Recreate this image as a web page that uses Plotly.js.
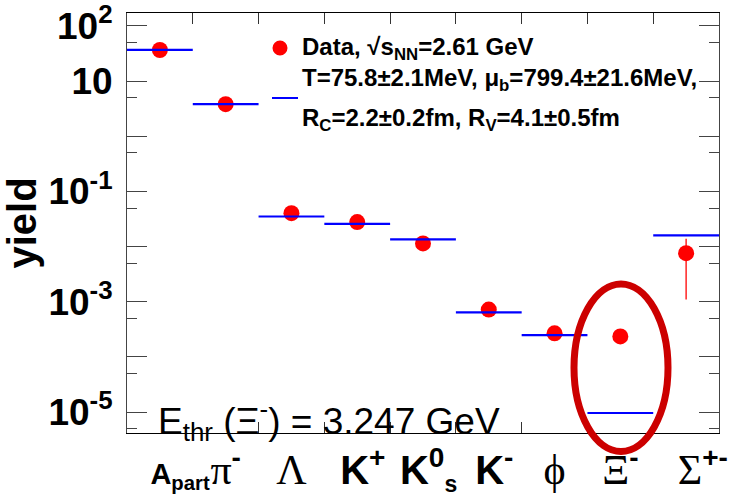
<!DOCTYPE html>
<html>
<head>
<meta charset="utf-8">
<script src="https://cdn.plot.ly/plotly-3.0.1.min.js"></script>
<style>html,body{margin:0;padding:0;background:#fff;}</style>
</head>
<body>
<div id="chart" style="width:729px;height:495px;"></div>
<script>
// Particle species (x categories), drawn as axis tick labels
const particles = [
  '<span style="font-size:29px">\u00a0\u00a0\u00a0\u00a0\u00a0A<sub>part</sub></span>',
  '<span style="font-family:Liberation Serif;font-weight:normal;font-size:42px">π</span><sup>-</sup>',
  '<span style="font-family:Liberation Serif;font-weight:normal;font-size:42px">Λ</span>',
  '\u00a0K<sup>+</sup>',
  '\u00a0K<sup>0</sup><sub><span style="font-size:23px">s</span></sub>',
  '\u00a0K<sup>-</sup>',
  '<span style="font-family:Liberation Serif, DejaVu Serif;font-weight:normal;font-size:42px">ϕ</span>',
  '<span style="font-family:Liberation Serif;font-weight:normal;font-size:42px">Ξ</span><sup>-</sup>',
  '\u00a0\u00a0\u00a0<span style="font-family:Liberation Serif;font-weight:normal;font-size:42px">Σ</span><sup>+-</sup>'
];

// Measured yields (red points) and statistical-model yields (blue lines)
const dataYield  = [36.7, 3.82, 0.0404, 0.0278, 0.0114, 7.2e-4, 2.67e-4, 2.35e-4, 7.6e-3];
const errPlus    = [null, null, null, null, null, null, null, null, 0.0062];
const errMinus   = [null, null, null, null, null, null, null, null, 0.0065];
const modelYield = [36.7, 3.82, 0.0351, 0.0259, 0.0135, 6.4e-4, 2.49e-4, 9.6e-6, 0.0159];

// Log-axis ticks: long ticks at each decade, short ticks at 5x10^k
const decadeVals   = [1e-5, 1e-4, 1e-3, 1e-2, 1e-1, 1, 10, 100];
const decadeLabels = ['10<sup>-5</sup>', '', '10<sup>-3</sup>', '', '10<sup>-1</sup>', '', '10', '10<sup>2</sup>'];
const fiveVals     = [5e-6, 5e-5, 5e-4, 5e-3, 5e-2, 0.5, 5, 50];

const SANS = 'Liberation Sans, Arial, sans-serif';
const idx = particles.map((_, i) => i);
const bounds = particles.slice(1).map((_, i) => i + 0.5);

const dataTrace = {
  x: idx, y: dataYield, type: 'scatter', mode: 'markers',
  marker: {color: '#ff0000', size: 16},
  error_y: {type: 'data', symmetric: false, array: errPlus, arrayminus: errMinus,
            color: '#ff0000', thickness: 1.3, width: 0},
  showlegend: false, hoverinfo: 'skip'
};

// Model values as horizontal segments spanning each category bin
const modelTrace = {
  x: idx, y: modelYield, type: 'scatter', mode: 'markers',
  marker: {size: 1, opacity: 0},
  error_x: {type: 'constant', value: 0.5, color: '#0000ff', thickness: 2.2, width: 0},
  showlegend: false, hoverinfo: 'skip'
};

const px = (p) => (p - 127) / 592;   // plot-area pixel -> paper x
const py = (p) => (433 - p) / 420;   // plot-area pixel -> paper y

const legendFont = {family: SANS, size: 24, weight: 'bold', color: '#000'};

const layout = {
  width: 729, height: 495,
  margin: {l: 127, r: 10, t: 13, b: 62},
  paper_bgcolor: '#fff', plot_bgcolor: '#fff',
  font: {family: SANS, color: '#000'},
  xaxis: {
    range: [-0.5, 8.5], tickmode: 'array', tickvals: idx, ticktext: particles,
    tickangle: 0,
    ticks: '', showline: true, linecolor: '#000', linewidth: 1, mirror: 'ticks',
    showgrid: false, zeroline: false, automargin: false,
    tickfont: {family: SANS, size: 40, weight: 'bold', color: '#000'},
    ticklabelstandoff: 2,
    minor: {tickmode: 'array', tickvals: bounds, ticks: 'inside', ticklen: 11,
            tickcolor: '#333', tickwidth: 1, showgrid: false}
  },
  yaxis: {
    type: 'log', range: [-5.38, 2.235], tickmode: 'array',
    tickvals: decadeVals, ticktext: decadeLabels,
    ticks: 'inside', ticklen: 20, tickwidth: 1, tickcolor: '#444',
    showline: true, linecolor: '#444', linewidth: 1, mirror: 'ticks',
    showgrid: false, zeroline: false, automargin: false,
    tickfont: {family: SANS, size: 37, weight: 'bold', color: '#000'},
    ticklabelstandoff: 6,
    minor: {tickmode: 'array', tickvals: fiveVals, ticks: 'inside', ticklen: 10,
            tickcolor: '#444', tickwidth: 1, showgrid: false},
    title: {text: 'yield', standoff: 8,
            font: {family: SANS, size: 40, weight: 'bold', color: '#000'}}
  },
  shapes: [
    // highlight ring around the Xi- point
    {type: 'circle', xref: 'paper', yref: 'paper', layer: 'above',
     x0: px(574), x1: px(668), y0: py(451.5), y1: py(284),
     line: {color: '#cc0000', width: 7}},
    // legend symbols
    {type: 'circle', xref: 'paper', yref: 'paper', layer: 'above',
     x0: px(272.5), x1: px(287.5), y0: py(55.5), y1: py(40.5),
     fillcolor: '#ff0000', line: {width: 0}},
    {type: 'line', xref: 'paper', yref: 'paper', layer: 'above',
     x0: px(272), x1: px(298), y0: py(98), y1: py(98),
     line: {color: '#0000ff', width: 2}}
  ],
  annotations: [
    {xref: 'paper', yref: 'paper', x: px(300), y: py(48), xanchor: 'left', yanchor: 'middle',
     showarrow: false, align: 'left',
     text: 'Data, √s<sub>NN</sub>=2.61 GeV', font: legendFont},
    {xref: 'paper', yref: 'paper', x: px(300), y: py(79), xanchor: 'left', yanchor: 'middle',
     showarrow: false, align: 'left',
     text: 'T=75.8±2.1MeV, μ<sub>b</sub>=799.4±21.6MeV,', font: legendFont},
    {xref: 'paper', yref: 'paper', x: px(300), y: py(119), xanchor: 'left', yanchor: 'middle',
     showarrow: false, align: 'left',
     text: 'R<sub>C</sub>=2.2±0.2fm, R<sub>V</sub>=4.1±0.5fm', font: legendFont},
    {xref: 'paper', yref: 'paper', x: px(156), y: py(432), xanchor: 'left', yanchor: 'bottom',
     yshift: -16, showarrow: false,
     text: 'E<sub>thr</sub> (Ξ<sup>-</sup>) = 3.247 GeV',
     font: {family: SANS, size: 37, color: '#000'}}
  ]
};

Plotly.newPlot('chart', [dataTrace, modelTrace], layout, {staticPlot: true, displayModeBar: false});
</script>
</body>
</html>
